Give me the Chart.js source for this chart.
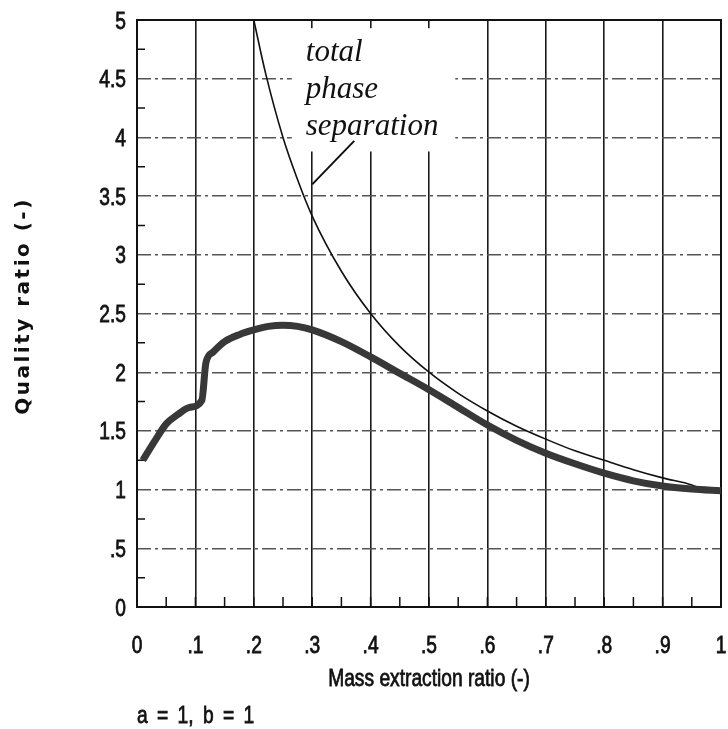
<!DOCTYPE html>
<html>
<head>
<meta charset="utf-8">
<style>
  html, body { margin: 0; padding: 0; background: #fff; }
  #wrap { width: 728px; height: 729px; }
</style>
<script src="https://cdn.jsdelivr.net/npm/chart.js@4.4.1/dist/chart.umd.min.js"></script>
</head>
<body>
<div id="wrap"><canvas id="chart" width="728" height="729"></canvas></div>
<script>
// quality ratio vs mass extraction ratio, a = 1, b = 1
const SANS = '"Liberation Sans", Arial, sans-serif';

// thick curve: actual quality ratio
const qualityX = [0.01, 0.03, 0.05, 0.07, 0.09, 0.111, 0.118, 0.13, 0.15, 0.175, 0.2, 0.225, 0.25, 0.275, 0.3,
  0.35, 0.4, 0.45, 0.5, 0.55, 0.6, 0.65, 0.7, 0.75, 0.8, 0.85, 0.9, 0.95, 1.0];
const qualityY = [1.25, 1.41, 1.56, 1.64, 1.70, 1.76, 2.08, 2.17, 2.26, 2.32, 2.36, 2.39, 2.40, 2.39, 2.36,
  2.26, 2.13, 1.99, 1.85, 1.70, 1.55, 1.42, 1.31, 1.22, 1.14, 1.075, 1.03, 1.005, 0.99];

// thin curve: total phase separation limit
const limitX = [0.2, 0.22, 0.25, 0.275, 0.3, 0.35, 0.4, 0.45, 0.5, 0.55, 0.6, 0.65, 0.7, 0.75, 0.8, 0.85, 0.9, 0.95, 0.965];
const limitY = [5.0, 4.55, 4.0, 3.64, 3.33, 2.86, 2.5, 2.22, 2.0, 1.82, 1.67, 1.54, 1.43, 1.33, 1.25, 1.17, 1.10, 1.04, 1.01];

const xTickLabels = ['0', '.1', '.2', '.3', '.4', '.5', '.6', '.7', '.8', '.9', '1'];
const yTickLabels = ['0', '.5', '1', '1.5', '2', '2.5', '3', '3.5', '4', '4.5', '5'];

const xTitle = 'Mass extraction ratio (-)';
const yTitle = 'Quality ratio (-)';
const noteLines = ['total', 'phase', 'separation'];
const paramNote = 'a = 1, b = 1';

const pts = (xs, ys) => xs.map((x, i) => ({ x, y: ys[i] }));

// narrow-looking text: regular sans squeezed horizontally, lightly stroked for weight
function narrowText(ctx, text, x, y, align) {
  ctx.save();
  ctx.translate(x, y);
  ctx.scale(0.8, 1);
  ctx.textAlign = align;
  ctx.lineWidth = 0.8;
  ctx.strokeStyle = ctx.fillStyle;
  ctx.fillText(text, 0, 0);
  ctx.strokeText(text, 0, 0);
  ctx.restore();
}

// frame, inward minor ticks, blank patch under the note, labels and titles
const decor = {
  id: 'decor',
  beforeDatasetsDraw(chart) {
    const { ctx, chartArea: a, scales: { x, y } } = chart;
    ctx.save();
    // the note sits on a blank patch that interrupts the grid
    ctx.fillStyle = '#fff';
    const bx0 = x.getPixelForValue(0.265), bx1 = x.getPixelForValue(0.545);
    const by0 = y.getPixelForValue(4.93), by1 = y.getPixelForValue(3.88);
    ctx.fillRect(bx0, by0, bx1 - bx0, by1 - by0);

    ctx.strokeStyle = '#111';
    ctx.lineWidth = 2;
    ctx.strokeRect(a.left, a.top, a.right - a.left, a.bottom - a.top);

    ctx.lineWidth = 1.5;
    ctx.beginPath();
    x.ticks.forEach((t) => {
      const px = x.getPixelForValue(t.value);
      ctx.moveTo(px, a.bottom);
      ctx.lineTo(px, a.bottom - 10);
    });
    y.ticks.forEach((t, i) => {
      if (i % 2 === 0) return;
      const py = y.getPixelForValue(t.value);
      ctx.moveTo(a.left, py);
      ctx.lineTo(a.left + 8, py);
    });
    ctx.stroke();
    ctx.restore();
  },
  afterDatasetsDraw(chart) {
    const { ctx, scales: { x, y } } = chart;
    ctx.save();
    ctx.fillStyle = '#111';
    ctx.font = 'italic 31px "Liberation Serif", "DejaVu Serif", serif';
    ctx.textBaseline = 'alphabetic';
    const nx = x.getPixelForValue(0.289);
    [4.65, 4.335, 4.02].forEach((v, i) => ctx.fillText(noteLines[i], nx, y.getPixelForValue(v)));
    // leader to the thin curve
    ctx.strokeStyle = '#111';
    ctx.lineWidth = 2;
    ctx.beginPath();
    ctx.moveTo(x.getPixelForValue(0.3), y.getPixelForValue(3.6));
    ctx.lineTo(x.getPixelForValue(0.372), y.getPixelForValue(3.97));
    ctx.stroke();
    ctx.restore();
  },
  afterDraw(chart) {
    const { ctx, chartArea: a, scales: { x, y } } = chart;
    ctx.save();
    ctx.fillStyle = '#111';
    ctx.font = '24px ' + SANS;
    ctx.textBaseline = 'alphabetic';

    // tick labels on the major ticks
    x.ticks.forEach((t, i) => {
      if (i % 2) return;
      narrowText(ctx, xTickLabels[i / 2], x.getPixelForValue(t.value), a.bottom + 46, 'center');
    });
    y.ticks.forEach((t, i) => {
      if (i % 2) return;
      narrowText(ctx, yTickLabels[i / 2], a.left - 11, y.getPixelForValue(t.value) + 8.5, 'right');
    });

    narrowText(ctx, xTitle, (a.left + a.right) / 2, 686, 'center');
    ctx.wordSpacing = '5px';
    narrowText(ctx, paramNote, a.left, 723, 'left');
    ctx.wordSpacing = '0px';

    ctx.translate(24, 306);
    ctx.rotate(-Math.PI / 2);
    ctx.font = 'bold 20px "DejaVu Sans", sans-serif';
    ctx.letterSpacing = '2.5px';
    ctx.textAlign = 'center';
    ctx.textBaseline = 'middle';
    ctx.fillText(yTitle, 0, 0);
    ctx.restore();
  },
};

new Chart(document.getElementById('chart'), {
  type: 'scatter',
  data: {
    datasets: [
      {
        label: 'total phase separation',
        data: pts(limitX, limitY),
        showLine: true,
        borderColor: '#111',
        borderWidth: 1.6,
        pointRadius: 0,
        cubicInterpolationMode: 'monotone',
        order: 2,
      },
      {
        label: 'quality ratio',
        data: pts(qualityX, qualityY),
        showLine: true,
        borderColor: '#383838',
        borderWidth: 7,
        borderCapStyle: 'butt',
        pointRadius: 0,
        cubicInterpolationMode: 'monotone',
        order: 1,
      },
    ],
  },
  options: {
    responsive: false,
    animation: false,
    layout: { padding: { top: 20, right: 7, left: 0, bottom: 0 } },
    plugins: { legend: { display: false }, tooltip: { enabled: false } },
    scales: {
      x: {
        type: 'linear', min: 0, max: 1,
        afterFit: (s) => { s.height = 122; },
        border: { display: false },
        grid: {
          drawTicks: false,
          lineWidth: 1.6,
          color: (c) => (c.index % 2 === 0 ? '#1a1a1a' : 'rgba(0,0,0,0)'),
        },
        ticks: { stepSize: 0.05, autoSkip: false, display: false },
      },
      y: {
        type: 'linear', min: 0, max: 5,
        afterFit: (s) => { s.width = 137; },
        border: { display: false, dash: [14, 4, 3, 4] },
        grid: {
          drawTicks: false,
          lineWidth: 1.4,
          color: (c) => (c.index % 2 === 0 && c.index > 0 && c.index < 20 ? '#555' : 'rgba(0,0,0,0)'),
        },
        ticks: { stepSize: 0.25, autoSkip: false, display: false },
      },
    },
  },
  plugins: [decor],
});
</script>
</body>
</html>
